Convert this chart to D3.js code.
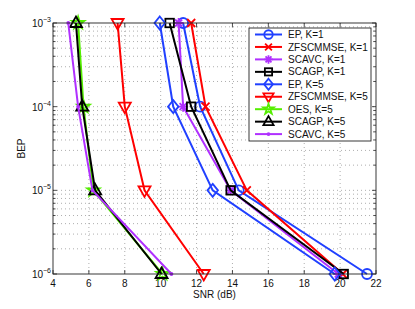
<!DOCTYPE html>
<html><head><meta charset="utf-8">
<script src="https://cdn.jsdelivr.net/npm/d3@7"></script>
<style>body{margin:0;background:#fff}svg{display:block}text{font-family:"Liberation Sans",Arial,sans-serif}</style>
</head><body><svg id="c" width="415" height="309"></svg>
<script>
const bepLevels = [1e-3, 1e-4, 1e-5, 1e-6];
const seriesNames = ["EP, K=1","ZFSCMMSE, K=1","SCAVC, K=1","SCAGP, K=1","EP, K=5","ZFSCMMSE, K=5","OES, K=5","SCAGP, K=5","SCAVC, K=5"];
const epK1 = [11.25, 12.2, 14.35, 21.5];
const zfK1 = [11.7, 12.5, 14.8, 20.15];
const scavcK1 = [11.0, 11.25, 13.9, 19.9];
const scagpK1 = [10.5, 11.7, 13.9, 20.2];
const epK5 = [9.95, 10.7, 12.9, 19.7];
const zfK5 = [7.6, 8.0, 9.1, 12.4];
const oesK5 = [5.4, 5.7, 6.25, 10.1];
const scagpK5 = [5.28, 5.63, 6.35, 10.05];
const scavcK5 = [4.85, 5.4, 6.2, 10.6];
const xTicks = [4,6,8,10,12,14,16,18,20,22];
const yTicks = [1e-6,1e-5,1e-4,1e-3];
const yExp = ["−6","−5","−4","−3"];

const colors = ["#2040ff","#ff0000","#b030ff","#000000","#2040ff","#ff0000","#55ee00","#000000","#b030ff"];
const markers = ["circle","x","asterisk","square","diamond","tridown","star","triup","dot"];
const data = [epK1,zfK1,scavcK1,scagpK1,epK5,zfK5,oesK5,scagpK5,scavcK5];

const L=53,R=376,T=23,B=274;
const x = d3.scaleLinear().domain([4,22]).range([L,R]);
const y = d3.scaleLog().domain([1e-6,1e-3]).range([B,T]);
const svg = d3.select("#c");

// grid
const g = svg.append("g");
const minorY=[];
for(let e=-6;e<-3;e++) for(let m=1;m<10;m++) minorY.push(m*Math.pow(10,e));
minorY.push(1e-3);
g.selectAll(".gy").data(minorY.filter(v=>v>1e-6*1.01 && v<1e-3*0.99)).enter().append("line")
 .attr("x1",L).attr("x2",R).attr("y1",d=>y(d)).attr("y2",d=>y(d))
 .attr("stroke","#999").attr("stroke-width",0.8).attr("stroke-dasharray","1,3");
g.selectAll(".gx").data(xTicks.slice(1,-1)).enter().append("line")
 .attr("y1",T).attr("y2",B).attr("x1",d=>x(d)).attr("x2",d=>x(d))
 .attr("stroke","#999").attr("stroke-width",0.8).attr("stroke-dasharray","1,3");

// ticks
const tk = svg.append("g").attr("stroke","#222").attr("stroke-width",0.8);
xTicks.forEach(v=>{
  tk.append("line").attr("x1",x(v)).attr("x2",x(v)).attr("y1",B).attr("y2",B-4);
  tk.append("line").attr("x1",x(v)).attr("x2",x(v)).attr("y1",T).attr("y2",T+4);
});
minorY.forEach(v=>{
  const len = [1e-6,1e-5,1e-4,1e-3].some(t=>Math.abs(v/t-1)<1e-6)?4:2.5;
  tk.append("line").attr("x1",L).attr("x2",L+len).attr("y1",y(v)).attr("y2",y(v));
  tk.append("line").attr("x1",R).attr("x2",R-len).attr("y1",y(v)).attr("y2",y(v));
});

// tick labels
svg.selectAll(".xl").data(xTicks).enter().append("text")
 .attr("x",d=>x(d)).attr("y",B+13).attr("text-anchor","middle").attr("font-size",10).attr("fill","#111").text(d=>d);
yTicks.forEach((v,i)=>{
  svg.append("text").attr("x",L-10).attr("y",y(v)+4).attr("text-anchor","end").attr("font-size",10).attr("fill","#111").text("10");
  svg.append("text").attr("x",L-10).attr("y",y(v)-1).attr("font-size",7).attr("fill","#111").text(yExp[i]);
});
svg.append("text").attr("x",(L+R)/2).attr("y",298).attr("text-anchor","middle").attr("font-size",10).attr("fill","#111").text("SNR (dB)");
svg.append("text").attr("transform",`translate(25,${(T+B)/2}) rotate(-90)`).attr("text-anchor","middle").attr("font-size",10).attr("fill","#111").text("BEP");

function drawMarker(sel, type, color, cx, cy, s){
  const gg = sel.append("g").attr("transform",`translate(${cx},${cy})`).attr("fill","none").attr("stroke",color).attr("stroke-width",1.8);
  const r = 5*s;
  if(type==="circle") gg.append("circle").attr("r",r);
  else if(type==="square") gg.append("rect").attr("x",-r*0.85).attr("y",-r*0.85).attr("width",r*1.7).attr("height",r*1.7);
  else if(type==="diamond") gg.append("path").attr("d",`M0,${-r*1.3}L${r*1.05},0L0,${r*1.3}L${-r*1.05},0Z`);
  else if(type==="triup") gg.append("path").attr("d",`M0,${-r*1.3}L${r*1.2},${r*0.8}L${-r*1.2},${r*0.8}Z`);
  else if(type==="tridown") gg.append("path").attr("d",`M0,${r*1.3}L${r*1.2},${-r*0.8}L${-r*1.2},${-r*0.8}Z`);
  else if(type==="x") gg.append("path").attr("d",`M${-r*0.8},${-r*0.8}L${r*0.8},${r*0.8}M${-r*0.8},${r*0.8}L${r*0.8},${-r*0.8}`);
  else if(type==="asterisk") gg.append("path").attr("d",`M${-r},0L${r},0M0,${-r}L0,${r}M${-r*0.7},${-r*0.7}L${r*0.7},${r*0.7}M${-r*0.7},${r*0.7}L${r*0.7},${-r*0.7}`);
  else if(type==="star"){
    const pts=[];for(let i=0;i<10;i++){const a=-Math.PI/2+i*Math.PI/5;const rr=i%2?r*0.5:r*1.3;pts.push([rr*Math.cos(a),rr*Math.sin(a)]);}
    gg.append("path").attr("d","M"+pts.map(p=>p.join(",")).join("L")+"Z");
  }
  else if(type==="dot") gg.append("circle").attr("r",1).attr("fill",color);
}

const line = d3.line().x(d=>x(d[0])).y(d=>y(d[1]));
const plot = svg.append("g");
data.forEach((arr,i)=>{
  const pts = arr.map((v,j)=>[v,bepLevels[j]]);
  plot.append("path").attr("d",line(pts)).attr("fill","none").attr("stroke",colors[i]).attr("stroke-width",2);
  pts.forEach(p=>drawMarker(plot,markers[i],colors[i],x(p[0]),y(p[1]),1));
});

// axes box
svg.append("rect").attr("x",L).attr("y",T).attr("width",R-L).attr("height",B-T).attr("fill","none").attr("stroke","#222").attr("stroke-width",0.9);

// legend
const lx=249, ly=28, lw=122, lh=113;
const lg = svg.append("g");
lg.append("rect").attr("x",lx).attr("y",ly).attr("width",lw).attr("height",lh).attr("fill","#fff").attr("stroke","#222").attr("stroke-width",0.9);
seriesNames.forEach((n,i)=>{
  const yy = ly+6.5+i*12.45;
  lg.append("line").attr("x1",lx+6).attr("x2",lx+33).attr("y1",yy).attr("y2",yy).attr("stroke",colors[i]).attr("stroke-width",2);
  drawMarker(lg,markers[i],colors[i],lx+19.5,yy,0.85);
  lg.append("text").attr("x",lx+39).attr("y",yy+3.6).attr("font-size",10).attr("fill","#111").text(n);
});
</script></body></html>
